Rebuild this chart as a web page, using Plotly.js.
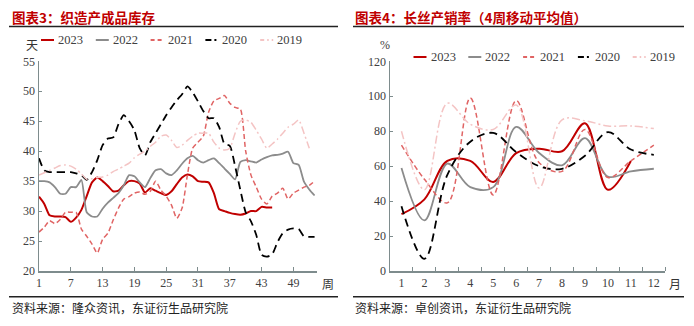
<!DOCTYPE html>
<html>
<head>
<meta charset="utf-8">
<script src="https://cdn.plot.ly/plotly-3.0.1.min.js"></script>
<style>
html,body{margin:0;padding:0;background:#fff;}
#chart{width:694px;height:326px;}
</style>
</head>
<body>
<div id="chart"></div>
<script>
// ---------- Chart 3: weekly finished-goods inventory (days) ----------
const weekTicks = [1, 7, 13, 19, 25, 31, 37, 43, 49];
const inv2023 = [32.4,31.2,29.3,29.1,29.1,29.0,28.2,28.9,30.2,32.5,34.8,35.6,35.0,34.2,33.3,33.4,34.3,35.0,35.0,34.6,33.1,33.8,33.4,33.0,32.7,33.3,34.5,35.6,36.1,35.8,35.0,34.9,34.8,33.0,30.3,30.0,29.7,29.5,29.4,29.6,30.0,30.0,30.7,30.6,30.6];
const inv2022 = [35.0,35.0,34.8,34.0,32.9,32.9,34.0,34.0,35.2,29.8,29.1,29.1,30.4,31.4,32.2,33.0,34.3,36.0,35.8,34.8,34.0,35.5,36.8,37.0,36.3,36.0,36.8,37.9,38.8,39.2,38.5,38.1,38.5,38.8,38.0,37.1,36.2,35.3,38.2,38.5,38.3,38.1,38.6,39.0,39.3,39.4,39.6,39.9,38.0,37.7,34.9,33.6,32.6];
const inv2021 = [26.5,27.3,28.4,27.9,28.6,29.8,29.8,29.8,27.0,25.8,24.5,23.0,25.3,26.3,28.5,30.5,32.0,32.4,33.0,33.2,32.8,33.3,35.0,33.5,32.5,31.0,28.8,30.5,36.0,40.5,41.5,42.5,46.5,48.4,48.8,49.3,48.0,47.3,47.0,40.0,36.0,34.0,32.0,31.2,32.5,33.0,33.8,32.0,33.0,33.5,34.0,34.3,35.0];
const inv2020 = [38.8,36.8,36.5,36.5,36.5,36.5,36.5,36.3,36.0,35.2,36.5,38.5,41.0,42.1,42.3,44.5,46.0,45.0,43.5,40.5,39.3,41.5,43.0,44.5,46.0,47.3,48.5,49.5,50.8,49.8,48.3,46.7,45.5,45.5,44.0,41.2,40.9,37.5,33.5,29.8,28.3,26.0,22.7,22.4,22.8,24.8,26.3,26.9,27.1,27.0,25.8,25.7,25.7];
const inv2019 = [36.0,36.4,36.8,37.2,37.6,37.7,37.5,37.0,36.2,35.3,35.4,35.6,35.7,36.0,36.6,37.0,37.5,38.0,38.9,39.5,40.0,40.8,41.5,42.5,42.7,41.8,40.6,41.0,41.8,42.5,43.0,43.0,43.0,41.5,40.5,40.2,40.5,43.0,45.0,45.2,44.8,43.5,42.0,40.5,41.2,42.0,43.0,44.0,44.5,45.2,43.0,40.5];

// ---------- Chart 4: filament sales-to-output ratio (%), 4-week MA ----------
const months = [1,2,3,4,5,6,7,8,9,10,11,12];
const ratio2023 = [32.5,41,63,63,51,67.5,70,68.5,84.5,46.5,63];
const ratio2022 = [59,29,61.5,48,48,82.5,67.5,60.5,76,54,57,58.5];
const ratio2021 = [72,52.5,39,99,43.5,97.5,62,57,81,53.5,63,72];
const ratio2020 = [37,7,55,74,79,68,60,58.5,66,79.5,69.5,66.5];
const ratio2019 = [80,46.5,96,84,81,95,47.5,86.5,86,83,83,81.5];

const years = ['2023','2022','2021','2020','2019'];
const leftSeries = [inv2023, inv2022, inv2021, inv2020, inv2019];
const rightSeries = [ratio2023, ratio2022, ratio2021, ratio2020, ratio2019];

const styles = [
  {color:'#C00000', width:2,   dash:'solid'},
  {color:'#8C8C8C', width:1.8, dash:'solid'},
  {color:'#E06464', width:1.5, dash:'5px,3px'},
  {color:'#000000', width:1.8, dash:'8px,5px'},
  {color:'#F4C4C4', width:1.5, dash:'8px,3px,2px,3px'}
];
const keyDash = ['solid','solid','4px,3px','6px,3px,2px,3px','4px,3px,1.5px,3px'];

const traces = [];
leftSeries.forEach((s, i) => {
  traces.push({
    type:'scatter', mode:'lines', name: years[i],
    x: s.map((_, k) => k + 1), y: s,
    xaxis:'x', yaxis:'y', showlegend:false,
    line:{color:styles[i].color, width:styles[i].width, dash:styles[i].dash, shape:'spline', smoothing:0.6},
    hoverinfo:'skip'
  });
});
rightSeries.forEach((s, i) => {
  traces.push({
    type:'scatter', mode:'lines', name: years[i],
    x: months.slice(0, s.length), y: s,
    xaxis:'x2', yaxis:'y2', showlegend:false,
    line:{color:styles[i].color, width:styles[i].width, dash:styles[i].dash, shape:'spline', smoothing:1},
    hoverinfo:'skip'
  });
});

const W = 694, H = 326;
const px = v => v / W;
const py = v => 1 - v / H;
const axisColor = '#7E8C8D';
const tickFont = {family:'Liberation Serif, Times New Roman, serif', size:12, color:'#404040'};
const cjk = 'Noto Sans CJK SC, sans-serif';

const shapes = [
  {type:'line', xref:'paper', yref:'paper', x0:px(9), x1:px(338), y0:py(26.5), y1:py(26.5), line:{color:'#222', width:1.5}},
  {type:'line', xref:'paper', yref:'paper', x0:px(353), x1:px(684), y0:py(26.5), y1:py(26.5), line:{color:'#222', width:1.5}},
  {type:'line', xref:'paper', yref:'paper', x0:px(9), x1:px(338), y0:py(296.7), y1:py(296.7), line:{color:'#222', width:1.5}},
  {type:'line', xref:'paper', yref:'paper', x0:px(353), x1:px(684), y0:py(296.7), y1:py(296.7), line:{color:'#222', width:1.5}}
];
const annotations = [
  {text:'<b>图表3：织造产成品库存</b>', xref:'paper', yref:'paper', x:px(10), y:py(17), xanchor:'left', yanchor:'middle', showarrow:false, font:{family:cjk, size:13.5, color:'#C00000'}},
  {text:'<b>图表4：长丝产销率（4周移动平均值）</b>', xref:'paper', yref:'paper', x:px(353), y:py(17), xanchor:'left', yanchor:'middle', showarrow:false, font:{family:cjk, size:13.5, color:'#C00000'}},
  {text:'天', xref:'paper', yref:'paper', x:px(32), y:py(45), xanchor:'center', yanchor:'middle', showarrow:false, font:{family:cjk, size:12, color:'#333'}},
  {text:'%', xref:'paper', yref:'paper', x:px(385), y:py(45), xanchor:'center', yanchor:'middle', showarrow:false, font:{family:'Liberation Serif, serif', size:12, color:'#404040'}},
  {text:'周', xref:'paper', yref:'paper', x:px(328), y:py(283), xanchor:'center', yanchor:'middle', showarrow:false, font:{family:cjk, size:12, color:'#333'}},
  {text:'月', xref:'paper', yref:'paper', x:px(675), y:py(283), xanchor:'center', yanchor:'middle', showarrow:false, font:{family:cjk, size:12, color:'#333'}},
  {text:'资料来源：隆众资讯，东证衍生品研究院', xref:'paper', yref:'paper', x:px(10), y:py(307), xanchor:'left', yanchor:'middle', showarrow:false, font:{family:cjk, size:12, color:'#222'}},
  {text:'资料来源：卓创资讯，东证衍生品研究院', xref:'paper', yref:'paper', x:px(353), y:py(307), xanchor:'left', yanchor:'middle', showarrow:false, font:{family:cjk, size:12, color:'#222'}}
];

// legend keys (one row per chart)
const legendRows = [{x0:41, y:40}, {x0:413.5, y:57}];
const pitch = 54.8;
legendRows.forEach(row => {
  years.forEach((yr, i) => {
    const xs = row.x0 + pitch * i;
    shapes.push({type:'line', xref:'paper', yref:'paper', x0:px(xs), x1:px(xs + 13), y0:py(row.y), y1:py(row.y),
      line:{color:styles[i].color, width:2, dash:keyDash[i]}});
    annotations.push({text:yr, xref:'paper', yref:'paper', x:px(xs + 15), y:py(row.y), xanchor:'left', yanchor:'middle',
      showarrow:false, font:{family:'Liberation Serif, serif', size:12.5, color:'#404040'}});
  });
});

const layout = {
  width:W, height:H,
  margin:{l:0, r:0, t:0, b:0},
  paper_bgcolor:'#ffffff', plot_bgcolor:'#ffffff',
  showlegend:false,
  xaxis:{
    domain:[px(39), px(316.7)], range:[1, 53.4], anchor:'y',
    tickmode:'array', tickvals:weekTicks,
    ticks:'inside', ticklen:4, tickcolor:axisColor, tickwidth:1,
    showline:true, linecolor:axisColor, linewidth:1.5,
    showgrid:false, zeroline:false, tickfont:tickFont
  },
  yaxis:{
    domain:[py(271), py(61.3)], range:[20, 55], anchor:'x',
    tickmode:'linear', tick0:20, dtick:5,
    ticks:'inside', ticklen:3, tickcolor:axisColor,
    showline:true, linecolor:axisColor, linewidth:1.5,
    showgrid:false, zeroline:false, tickfont:tickFont
  },
  xaxis2:{
    domain:[px(390), px(665.3)], range:[0.5, 12.5], anchor:'y2',
    tickmode:'array', tickvals:months, ticks:'',
    minor:{tickmode:'array', tickvals:[1.5,2.5,3.5,4.5,5.5,6.5,7.5,8.5,9.5,10.5,11.5,12.5], ticks:'inside', ticklen:4, tickcolor:axisColor, showgrid:false},
    showline:true, linecolor:axisColor, linewidth:1.5,
    showgrid:false, zeroline:false, tickfont:tickFont
  },
  yaxis2:{
    domain:[py(271), py(61.3)], range:[0, 120], anchor:'x2',
    tickmode:'linear', tick0:0, dtick:20,
    ticks:'inside', ticklen:3, tickcolor:axisColor,
    showline:true, linecolor:axisColor, linewidth:1.5,
    showgrid:false, zeroline:false, tickfont:tickFont
  },
  shapes: shapes,
  annotations: annotations
};

Plotly.newPlot('chart', traces, layout, {displayModeBar:false, staticPlot:true});
</script>
</body>
</html>
